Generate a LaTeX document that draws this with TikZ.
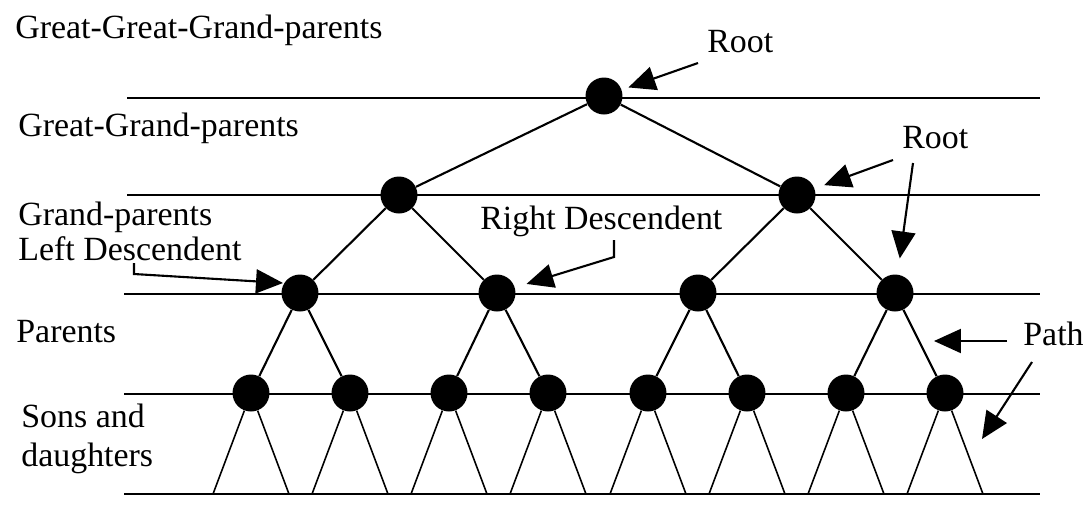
\documentclass[tikz,border=0pt]{standalone}
\usepackage{fontspec}
\setmainfont{Liberation Serif}
\usetikzlibrary{arrows.meta}

\tikzset{
	member/.style={circle,fill=black,inner sep=0pt,minimum size=0.74cm},
	generation/.style={line width=1.5pt},
	branch/.style={line width=1.2pt},
	fan/.style={line width=0.9pt},
	pointer/.style={line width=1.2pt,-{Triangle[length=0.54cm,width=0.48cm]}},
	caption/.style={anchor=base west,inner sep=0pt,font=\fontsize{19.3}{22}\selectfont},
}

\begin{document}
\begin{tikzpicture}[x=0.02cm,y=-0.02cm]
	\useasboundingbox (0,0) rectangle (1090,508);

	%generation lines
	\foreach \y/\x in {98/127,195/127,294/124,394/124,494/124}
		\draw[generation] (\x,\y) -- (1040,\y);

	%generation names
	\node[caption] (gggp) at (15,38) {Great-Great-Grand-parents};
	\node[caption] (ggp) at (18,136) {Great-Grand-parents};
	\node[caption] (gp) at (18,225) {Grand-parents};
	\node[caption] (par) at (16,342) {Parents};
	\node[caption] (sons) at (21,427) {Sons and};
	\node[caption] (daug) at (21,466) {daughters};

	%members of the tree
	\node[member] (r) at (604,96) {};
	\node[member] (a1) at (399,195) {};
	\node[member] (a2) at (797,195) {};
	\foreach \i/\x in {1/300,2/497,3/698,4/895}
		\node[member] (b\i) at (\x,293) {};
	\foreach \i/\x in {1/251,2/350,3/449,4/548,5/648,6/747,7/846,8/945}
		\node[member] (c\i) at (\x,393) {};

	%branches
	\draw[branch] (a1) -- (r) -- (a2);
	\draw[branch] (b1) -- (a1) -- (b2);
	\draw[branch] (b3) -- (a2) -- (b4);
	\draw[branch] (c1) -- (b1) -- (c2);
	\draw[branch] (c3) -- (b2) -- (c4);
	\draw[branch] (c5) -- (b3) -- (c6);
	\draw[branch] (c7) -- (b4) -- (c8);

	%descendants below the last generation
	\foreach \i/\x in {1/251,2/350,3/449,4/548,5/648,6/747,7/846,8/945}
		\draw[fan] (\x-38,494) -- (c\i) -- (\x+38,494);

	%annotations
	\node[caption] (root1) at (707,52) {Root};
	\node[caption] (root2) at (902,148) {Root};
	\node[caption] (left) at (18,260) {Left Descendent};
	\node[caption] (right) at (480,229) {Right Descendent};
	\node[caption] (path) at (1023,345) {Path};

	\coordinate (s1) at (698,63);
	\coordinate (s2) at (893,160);
	\coordinate (s3) at (913,163);
	\coordinate (l1) at (134,263);
	\coordinate (l2) at (134,274);
	\coordinate (ltip) at (283,283);
	\coordinate (r1) at (614,240);
	\coordinate (r2) at (614,257);
	\coordinate (p1) at (1007,341);
	\coordinate (ptip1) at (934,341);
	\coordinate (p2) at (1032,362);
	\coordinate (ptip2) at (982,439);

	\draw[pointer,shorten >=0.14cm] (s1) -- (r);
	\draw[pointer,shorten >=0.2cm] (s2) -- (a2);
	\draw[pointer,shorten >=0.32cm] (s3) -- (b4);
	\draw[pointer] (l1) -- (l2) -- (ltip);
	\draw[pointer,shorten >=0.24cm] (r1) -- (r2) -- (b2);
	\draw[pointer] (p1) -- (ptip1);
	\draw[pointer] (p2) -- (ptip2);
\end{tikzpicture}
\end{document}
